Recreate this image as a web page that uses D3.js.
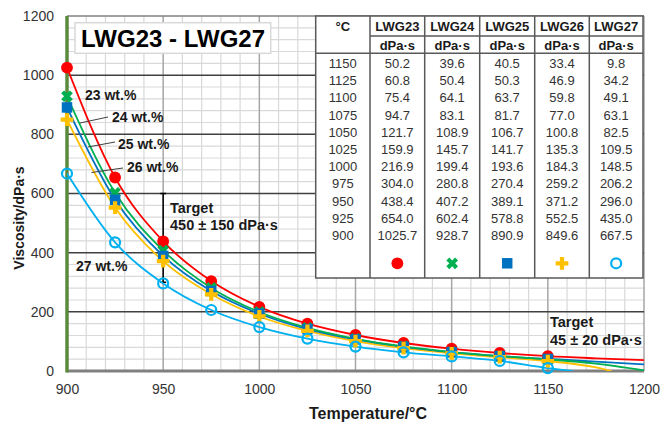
<!DOCTYPE html>
<html><head><meta charset="utf-8">
<script src="https://cdn.jsdelivr.net/npm/d3@7"></script>
<style>body{margin:0;background:#fff}svg{display:block;font-family:"Liberation Sans",Arial,Helvetica,sans-serif}</style>
</head><body><svg id="c" width="661" height="424"></svg>
<script>
// ---------- data ----------
const temps = [900, 925, 950, 975, 1000, 1025, 1050, 1075, 1100, 1125, 1150];
const seriesNames = ["LWG23", "LWG24", "LWG25", "LWG26", "LWG27"];
const wtLabels = ["23 wt.%", "24 wt.%", "25 wt.%", "26 wt.%", "27 wt.%"];
const lwg23 = [1025.7, 654.0, 438.4, 304.0, 216.9, 159.9, 121.7, 94.7, 75.4, 60.8, 50.2];
const lwg24 = [928.7, 602.4, 407.2, 280.8, 199.4, 145.7, 108.9, 83.1, 64.1, 50.4, 39.6];
const lwg25 = [890.9, 578.8, 389.1, 270.4, 193.6, 141.7, 106.7, 81.7, 63.7, 50.3, 40.5];
const lwg26 = [849.6, 552.5, 371.2, 259.2, 184.3, 135.3, 100.8, 77.0, 59.8, 46.9, 33.4];
const lwg27 = [667.5, 435.0, 296.0, 206.2, 148.5, 109.5, 82.5, 63.1, 49.1, 34.2, 9.8];
const tail23T = [1175, 1200], tail23V = [43, 37];
const tail24T = [1175, 1200], tail24V = [25, 2];
const tail25T = [1175, 1200], tail25V = [32, 22];
const tail26T = [1175, 1183], tail26V = [12, 0];
const tail27T = [1163], tail27V = [0];
const xTicks = [900, 950, 1000, 1050, 1100, 1150, 1200];
const yTicks = [0, 200, 400, 600, 800, 1000, 1200];
const targetTemps = [950, 1150];
const targetMid = [450, 45];
const targetTol = [150, 20];

// ---------- setup ----------
const svg = d3.select("#c");
const x = d3.scaleLinear().domain([900, 1200]).range([67, 644]);
const y = d3.scaleLinear().domain([0, 1200]).range([371, 16]);
const colors = ["#ff0000", "#00b050", "#0070c0", "#ffc000", "#00b0f0"];
const allVals = [lwg23, lwg24, lwg25, lwg26, lwg27];
const tails = [[tail23T, tail23V], [tail24T, tail24V], [tail25T, tail25V], [tail26T, tail26V], [tail27T, tail27V]];
const series = seriesNames.map((n, i) => ({
  name: n, color: colors[i],
  pts: temps.map((t, j) => [t, allVals[i][j]]),
  curve: temps.map((t, j) => [t, allVals[i][j]]).concat(tails[i][0].map((t, j) => [t, tails[i][1][j]]))
}));

svg.append("rect").attr("width", 661).attr("height", 424).attr("fill", "#fff");

const defs = svg.append("defs");
defs.append("clipPath").attr("id", "plotclip").append("rect")
  .attr("x", 67).attr("y", 16).attr("width", 577).attr("height", 355);

// ---------- grid ----------
const g = svg.append("g");
const xMinor = d3.range(910, 1200, 10).filter(v => v % 50 !== 0);
const yMinor = d3.range(40, 1200, 40).filter(v => v % 200 !== 0);
g.selectAll(".xm").data(xMinor).join("line")
  .attr("x1", d => x(d)).attr("x2", d => x(d)).attr("y1", y(0)).attr("y2", y(1200))
  .attr("stroke", "#d9d9d9").attr("stroke-width", 1.2);
g.selectAll(".ym").data(yMinor).join("line")
  .attr("x1", x(900)).attr("x2", x(1200)).attr("y1", d => y(d)).attr("y2", d => y(d))
  .attr("stroke", "#d9d9d9").attr("stroke-width", 1.2);
g.selectAll(".xM").data(xTicks.slice(1)).join("line")
  .attr("x1", d => x(d)).attr("x2", d => x(d)).attr("y1", y(0)).attr("y2", y(1200))
  .attr("stroke", "#a6a6a6").attr("stroke-width", 1.5);
g.selectAll(".yM").data(yTicks.slice(1, -1)).join("line")
  .attr("x1", x(900)).attr("x2", x(1200)).attr("y1", d => y(d)).attr("y2", d => y(d))
  .attr("stroke", "#404040").attr("stroke-width", 1.5);
g.append("line").attr("x1", x(900)).attr("x2", x(1200)).attr("y1", y(1200)).attr("y2", y(1200))
  .attr("stroke", "#808080").attr("stroke-width", 1.5);

// ---------- axes ----------
const xAxis = svg.append("g").attr("transform", `translate(0,${y(0)})`)
  .call(d3.axisBottom(x).tickValues(xTicks).tickSize(0).tickPadding(13).tickFormat(d3.format("d")));
const yAxis = svg.append("g").attr("transform", `translate(${x(900)},0)`)
  .call(d3.axisLeft(y).tickValues(yTicks).tickSize(0).tickPadding(13).tickFormat(d3.format("d")));
[xAxis, yAxis].forEach(a => {
  a.select(".domain").remove();
  a.selectAll("text").attr("font-size", 14).attr("fill", "#333")
    .attr("font-family", "'Liberation Sans',Arial,sans-serif");
});
svg.append("line").attr("x1", x(900)).attr("x2", x(1200)).attr("y1", y(0)).attr("y2", y(0))
  .attr("stroke", "#808080").attr("stroke-width", 3);
svg.append("line").attr("x1", x(900)).attr("x2", x(900)).attr("y1", y(0) + 1.5).attr("y2", y(1200))
  .attr("stroke", "#5b8a3c").attr("stroke-width", 3.5);

svg.append("text").attr("x", 368).attr("y", 419).attr("text-anchor", "middle")
  .attr("font-size", 16).attr("font-weight", "bold").attr("fill", "#1a1a1a").text("Temperature/°C");
svg.append("text").attr("transform", "translate(24,218) rotate(-90)").attr("text-anchor", "middle")
  .attr("font-size", 14).attr("font-weight", "bold").attr("fill", "#1a1a1a").text("Viscosity/dPa·s");

// ---------- target bars ----------
targetTemps.forEach((t, i) => {
  const tg = svg.append("g").attr("stroke", "#000").attr("stroke-width", 1.5);
  tg.append("line").attr("x1", x(t)).attr("x2", x(t))
    .attr("y1", y(targetMid[i] - targetTol[i])).attr("y2", y(targetMid[i] + targetTol[i]));
  [targetMid[i] - targetTol[i], targetMid[i] + targetTol[i]].forEach(v =>
    tg.append("line").attr("x1", x(t) - 3).attr("x2", x(t) + 3).attr("y1", y(v)).attr("y2", y(v)));
});

// ---------- curves ----------
const line = d3.line().x(d => x(d[0])).y(d => y(d[1])).curve(d3.curveMonotoneX);
const lg = svg.append("g").attr("clip-path", "url(#plotclip)");
series.slice().reverse().forEach(s => {
  lg.append("path").attr("d", line(s.curve)).attr("fill", "none")
    .attr("stroke", s.color).attr("stroke-width", 1.8);
});

// ---------- markers ----------
const symCircle = d3.symbol().type(d3.symbolCircle).size(110);
const symX = d3.symbol().type(d3.symbolCross).size(85);
const symSq = d3.symbol().type(d3.symbolSquare).size(110);
const symPlus = d3.symbol().type(d3.symbolCross).size(90);
function drawMarker(sel, i, cx, cy) {
  const c = colors[i];
  if (i === 0) sel.append("path").attr("d", symCircle()).attr("transform", `translate(${cx},${cy})`).attr("fill", c);
  if (i === 1) sel.append("path").attr("d", symX()).attr("transform", `translate(${cx},${cy}) rotate(45)`).attr("fill", c);
  if (i === 2) sel.append("path").attr("d", symSq()).attr("transform", `translate(${cx},${cy})`).attr("fill", c);
  if (i === 3) sel.append("path").attr("d", symPlus()).attr("transform", `translate(${cx},${cy})`).attr("fill", c);
  if (i === 4) sel.append("circle").attr("cx", cx).attr("cy", cy).attr("r", 5)
    .attr("fill", "none").attr("stroke", c).attr("stroke-width", 2.2);
}
const mg = svg.append("g");
series.forEach((s, i) => s.pts.forEach(p => drawMarker(mg, i, x(p[0]), y(p[1]))));

// ---------- annotations ----------
const ann = svg.append("g").attr("font-weight", "bold").attr("fill", "#1a1a1a").attr("font-size", 14);
const labelPos = [[85, 100], [112, 122], [118, 148.5], [127, 171.5], [76, 271]];
wtLabels.forEach((t, i) => ann.append("text").attr("x", labelPos[i][0]).attr("y", labelPos[i][1]).text(t));
const leaders = [null, [80, 123, 108, 117], [88, 147, 115, 142], [91.5, 172.5, 123, 168], null];
leaders.forEach(l => { if (l) svg.append("line").attr("x1", l[0]).attr("y1", l[1]).attr("x2", l[2]).attr("y2", l[3])
  .attr("stroke", "#404040").attr("stroke-width", 1); });
const tann = svg.append("g").attr("font-weight", "bold").attr("fill", "#1a1a1a").attr("font-size", 14.5);
tann.append("text").attr("x", 170).attr("y", 212.5).text("Target");
tann.append("text").attr("x", 170).attr("y", 230).text(`${targetMid[0]} ± ${targetTol[0]} dPa·s`);
tann.append("text").attr("x", 550).attr("y", 326.5).text("Target");
tann.append("text").attr("x", 550).attr("y", 344.5).text(`${targetMid[1]} ± ${targetTol[1]} dPa·s`);

// ---------- title ----------
svg.append("rect").attr("x", 75).attr("y", 22.7).attr("width", 195.7).attr("height", 30.6)
  .attr("fill", "#fff").attr("stroke", "#d9d9d9").attr("stroke-width", 1.5);
svg.append("text").attr("x", 173).attr("y", 46.5).attr("text-anchor", "middle")
  .attr("font-size", 24).attr("font-weight", "bold").attr("fill", "#000").text("LWG23 - LWG27");

// ---------- table ----------
const tb = svg.append("g");
const colX = [315.7, 370, 424.7, 479.7, 534.7, 589.3, 643];
const tTop = 16, tMid = 36, tHead = 53.3, tBot = 278;
tb.append("rect").attr("x", colX[0]).attr("y", tTop).attr("width", colX[6] - colX[0]).attr("height", tBot - tTop)
  .attr("fill", "#fff").attr("stroke", "#595959").attr("stroke-width", 1.5);
colX.slice(1, 6).forEach(cx => tb.append("line").attr("x1", cx).attr("x2", cx).attr("y1", tTop).attr("y2", tBot)
  .attr("stroke", "#595959").attr("stroke-width", 1.5));
tb.append("line").attr("x1", colX[1]).attr("x2", colX[6]).attr("y1", tMid).attr("y2", tMid)
  .attr("stroke", "#595959").attr("stroke-width", 1.5);
tb.append("line").attr("x1", colX[0]).attr("x2", colX[6]).attr("y1", tHead).attr("y2", tHead)
  .attr("stroke", "#595959").attr("stroke-width", 1.5);
const cc = i => (colX[i] + colX[i + 1]) / 2;
tb.append("text").attr("x", cc(0)).attr("y", 30.5).attr("text-anchor", "middle")
  .attr("font-size", 13).attr("font-weight", "bold").attr("fill", "#1a1a1a").text("°C");
seriesNames.forEach((n, i) => {
  tb.append("text").attr("x", cc(i + 1)).attr("y", 30.5).attr("text-anchor", "middle")
    .attr("font-size", 13).attr("font-weight", "bold").attr("fill", "#1a1a1a").text(n);
  tb.append("text").attr("x", cc(i + 1)).attr("y", 49.5).attr("text-anchor", "middle")
    .attr("font-size", 13).attr("font-weight", "bold").attr("fill", "#1a1a1a").text("dPa·s");
});
const rowOrder = d3.range(temps.length).reverse();
rowOrder.forEach((j, r) => {
  const yy = 68 + r * 17.2;
  tb.append("text").attr("x", cc(0)).attr("y", yy).attr("text-anchor", "middle")
    .attr("font-size", 13).attr("fill", "#333").text(temps[j]);
  allVals.forEach((vals, i) => tb.append("text").attr("x", cc(i + 1)).attr("y", yy).attr("text-anchor", "middle")
    .attr("font-size", 13).attr("fill", "#333").text(vals[j].toFixed(1)));
});
seriesNames.forEach((n, i) => drawMarker(tb, i, cc(i + 1), 263.3));
</script></body></html>
